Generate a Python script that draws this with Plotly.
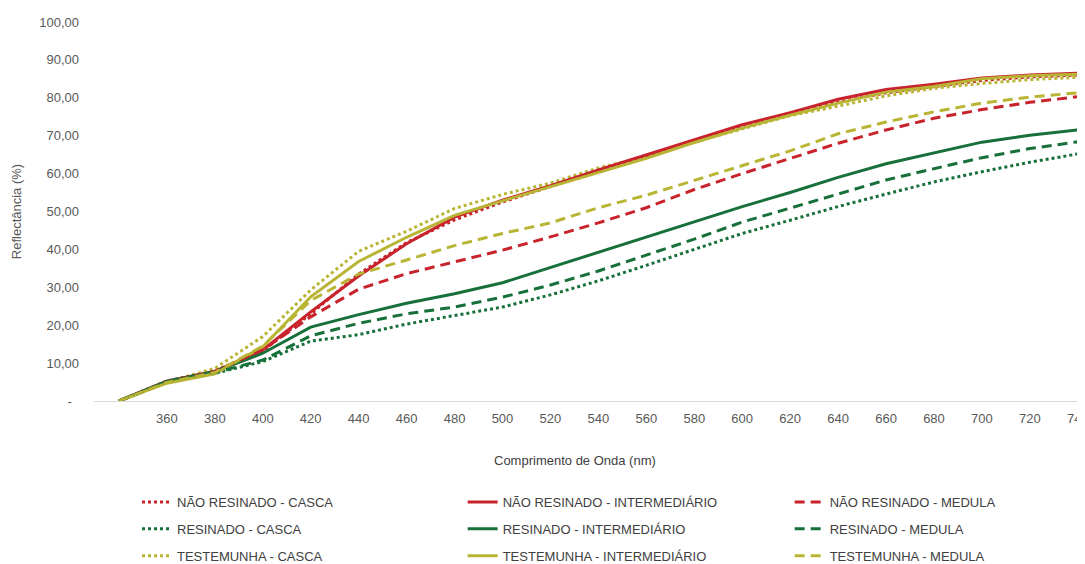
import plotly.graph_objects as go

wavelengths = [340, 360, 380, 400, 420, 440, 460, 480, 500, 520, 540, 560, 580, 600, 620, 640, 660, 680, 700, 720, 740]
tick_values = [360, 380, 400, 420, 440, 460, 480, 500, 520, 540, 560, 580, 600, 620, 640, 660, 680, 700, 720, 740]

nr_casca  = [0, 5.3, 8.0, 13.2, 23.0, 33.5, 41.8, 47.8, 52.5, 56.6, 60.4, 64.5, 68.3, 72.2, 75.8, 78.9, 81.3, 83.0, 84.6, 85.5, 86.0]
nr_inter  = [0, 5.2, 7.8, 13.5, 23.5, 33.0, 41.5, 48.5, 53.0, 56.8, 61.0, 65.0, 68.9, 72.9, 76.1, 79.6, 82.2, 83.6, 85.2, 86.0, 86.5]
nr_medula = [0, 5.1, 7.8, 13.5, 22.2, 29.5, 33.6, 36.8, 39.8, 43.3, 47.0, 51.0, 55.8, 60.0, 64.0, 68.0, 71.5, 74.6, 76.9, 78.8, 80.3]
r_casca   = [0, 5.0, 7.3, 10.4, 15.8, 17.5, 20.3, 22.5, 24.8, 28.0, 31.7, 35.8, 39.9, 44.2, 47.7, 51.3, 54.6, 57.8, 60.5, 63.0, 65.2]
r_inter   = [0, 5.2, 7.8, 12.6, 19.5, 22.8, 25.8, 28.3, 31.2, 35.2, 39.3, 43.3, 47.3, 51.3, 55.0, 59.0, 62.6, 65.5, 68.3, 70.1, 71.5]
r_medula  = [0, 5.1, 7.5, 10.8, 17.2, 20.5, 23.0, 24.8, 27.4, 30.6, 34.3, 38.5, 42.7, 47.2, 50.9, 54.8, 58.3, 61.3, 64.2, 66.6, 68.4]
t_casca   = [0, 5.0, 8.6, 17.0, 29.3, 39.5, 44.8, 50.8, 54.5, 57.5, 61.5, 64.5, 68.3, 71.8, 75.3, 77.8, 80.5, 82.5, 83.8, 84.8, 85.4]
t_inter   = [0, 4.7, 7.2, 14.3, 27.5, 36.8, 43.2, 49.0, 52.8, 56.5, 60.3, 64.0, 68.2, 72.0, 75.4, 78.6, 81.5, 83.0, 85.0, 85.8, 86.2]
t_medula  = [0, 4.9, 7.5, 14.5, 26.5, 33.5, 37.2, 41.0, 44.2, 47.0, 51.0, 54.3, 58.2, 62.0, 66.0, 70.5, 73.6, 76.3, 78.6, 80.2, 81.3]

y_ticks = [0, 10, 20, 30, 40, 50, 60, 70, 80, 90, 100]
y_tick_text = ["-\u00a0\u00a0", "10,00", "20,00", "30,00", "40,00", "50,00", "60,00", "70,00", "80,00", "90,00", "100,00"]

RED = "#C8232C"
GREEN = "#17703A"
YELLOW = "#B9B534"
DASH = "10px,6px"

# columns of the legend: casca / intermediário / medula
series = [
    ("NÃO RESINADO - CASCA", nr_casca, RED, "dot", "legend"),
    ("RESINADO - CASCA", r_casca, GREEN, "dot", "legend"),
    ("TESTEMUNHA - CASCA", t_casca, YELLOW, "dot", "legend"),
    ("NÃO RESINADO - INTERMEDIÁRIO", nr_inter, RED, "solid", "legend2"),
    ("RESINADO - INTERMEDIÁRIO", r_inter, GREEN, "solid", "legend2"),
    ("TESTEMUNHA - INTERMEDIÁRIO", t_inter, YELLOW, "solid", "legend2"),
    ("NÃO RESINADO - MEDULA", nr_medula, RED, DASH, "legend3"),
    ("RESINADO - MEDULA", r_medula, GREEN, DASH, "legend3"),
    ("TESTEMUNHA - MEDULA", t_medula, YELLOW, DASH, "legend3"),
]

fig = go.Figure()
for i, (name, vals, color, dash, leg) in enumerate(series):
    fig.add_trace(go.Scatter(
        x=wavelengths, y=vals, name=name, mode="lines",
        line=dict(color=color, width=3, dash=dash),
        legend=leg, legendgroup=f"g{i}",
    ))

FONT = "Liberation Sans, Arial, sans-serif"
TXT = "#595959"

leg_common = dict(
    orientation="v", yref="container", y=0.1385, xanchor="left", yanchor="top",
    font=dict(family=FONT, size=13, color="#404040"),
    bgcolor="rgba(0,0,0,0)", traceorder="grouped", tracegroupgap=7,
)

fig.update_layout(
    width=1077, height=556,
    margin=dict(l=86, r=0, t=14, b=163, autoexpand=False),
    paper_bgcolor="white", plot_bgcolor="white",
    font=dict(family=FONT, size=13, color=TXT),
    showlegend=True,
    legend=dict(x=0.0434, **leg_common),
    legend2=dict(x=0.372, **leg_common),
    legend3=dict(x=0.702, **leg_common),
    xaxis=dict(
        range=[329.6, 743.0], tickmode="array", tickvals=tick_values,
        ticktext=[str(v) for v in tick_values], ticklabeloverflow="allow",
        showgrid=False, zeroline=False, showline=False, ticks="", ticklabelstandoff=8,
        tickfont=dict(family=FONT, size=13, color=TXT), automargin=False,
    ),
    yaxis=dict(
        range=[0, 100], tickmode="array", tickvals=y_ticks, ticktext=y_tick_text,
        showgrid=False, zeroline=True, zerolinecolor="#D9D9D9", zerolinewidth=1,
        showline=False, ticks="", ticklabelstandoff=14,
        tickfont=dict(family=FONT, size=13, color=TXT), automargin=False,
        title=dict(text="Reflectância (%)", font=dict(family=FONT, size=13, color=TXT), standoff=14),
    ),
    annotations=[dict(
        text="Comprimento de Onda (nm)", xref="paper", yref="paper",
        x=0.485, y=-0.1557, xanchor="center", yanchor="middle", showarrow=False,
        font=dict(family=FONT, size=13, color="#404040"),
    )],
)

fig.write_html("out.html")
